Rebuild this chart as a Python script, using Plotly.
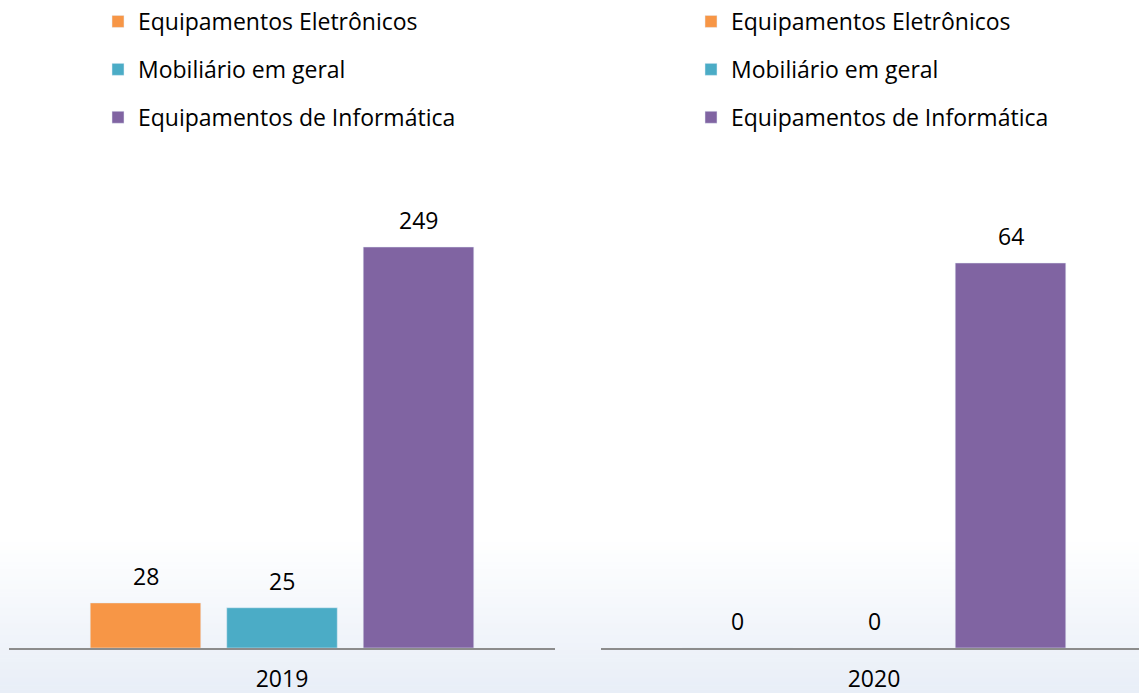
import plotly.graph_objects as go

years = ["2019", "2020"]
series = ["Equipamentos Eletrônicos", "Mobiliário em geral", "Equipamentos de Informática"]
values_2019 = [28, 25, 249]
values_2020 = [0, 0, 64]
colors = ["#F79646", "#4BACC6", "#8064A2"]

FONT = "Open Sans"
FS = 23
W, H = 1139, 693


def py(Y):
    """screen y (from top) -> paper fraction"""
    return 1 - Y / H


fig = go.Figure()
for i, name in enumerate(series):
    fig.add_trace(go.Bar(
        x=[years[0]], y=[values_2019[i]], name=name, marker_color=colors[i],
        xaxis="x", yaxis="y", legend="legend", legendgroup="a" + str(i),
        hoverinfo="skip"))
for i, name in enumerate(series):
    fig.add_trace(go.Bar(
        x=[years[1]], y=[values_2020[i]], name=name, marker_color=colors[i],
        xaxis="x2", yaxis="y2", legend="legend2", legendgroup="b" + str(i),
        hoverinfo="skip"))

# data labels
annotations = []
for vals, xa, ya in [(values_2019, "x", "y"), (values_2020, "x2", "y2")]:
    for i, v in enumerate(vals):
        off = (i - 1) * 0.25  # group offset in category units (slot = (1-bargap)/3)
        annotations.append(dict(
            x=off, y=v, xref=xa, yref=ya, text=str(v), showarrow=False,
            yanchor="middle", yshift=27, font=dict(family=FONT, size=FS, color="#000000")))

# background gradient (decorative)
shapes = []
n = 40
Y0, Y1 = 538, H
top = (255, 255, 255)
bot = (232, 238, 247)
for k in range(n):
    t = (k + 0.5) / n
    c = tuple(round(top[j] + (bot[j] - top[j]) * t) for j in range(3))
    ya = Y0 + (Y1 - Y0) * k / n
    yb = Y0 + (Y1 - Y0) * (k + 1) / n + 0.6
    shapes.append(dict(type="rect", xref="paper", yref="paper", x0=0, x1=1,
                       y0=max(0, py(yb)), y1=py(ya), line_width=0,
                       fillcolor="rgb(%d,%d,%d)" % c, layer="below"))

dom_y = [py(648), py(150)]
scale1 = (648 - 247) / 249
scale2 = (648 - 263) / 64

axis_common = dict(showline=True, linecolor="#8C8C8C", linewidth=2, ticks="",
                   showgrid=False, zeroline=False, automargin=False,
                   tickfont=dict(family=FONT, size=FS, color="#000000"),
                   ticklabelstandoff=9)

leg_common = dict(y=1.0, xanchor="left", yanchor="top", traceorder="grouped",
                  tracegroupgap=15, bgcolor="rgba(0,0,0,0)",
                  font=dict(family=FONT, size=FS, color="#000000"))

fig.update_layout(
    width=W, height=H, margin=dict(l=0, r=0, t=0, b=0, autoexpand=False),
    paper_bgcolor="white", plot_bgcolor="rgba(0,0,0,0)",
    barmode="group", bargap=0.25, bargroupgap=0.19,
    font=dict(family=FONT, size=FS, color="#000000"),
    xaxis=dict(domain=[9 / W, 555 / W], range=[-0.5, 0.5], **axis_common),
    xaxis2=dict(domain=[601 / W, 1.0], range=[-0.5, (W - 874) / 546], **axis_common),
    yaxis=dict(domain=dom_y, range=[0, (648 - 150) / scale1], visible=False),
    yaxis2=dict(domain=dom_y, range=[0, (648 - 150) / scale2], visible=False, anchor="x2"),
    legend=dict(x=98 / W, **leg_common),
    legend2=dict(x=691 / W, **leg_common),
    annotations=annotations, shapes=shapes,
)
fig.update_layout(xaxis2_anchor="y2")

fig.write_html("out.html", config={"displayModeBar": False},
               post_script="document.body.style.margin='0';document.body.style.overflow='hidden';")
